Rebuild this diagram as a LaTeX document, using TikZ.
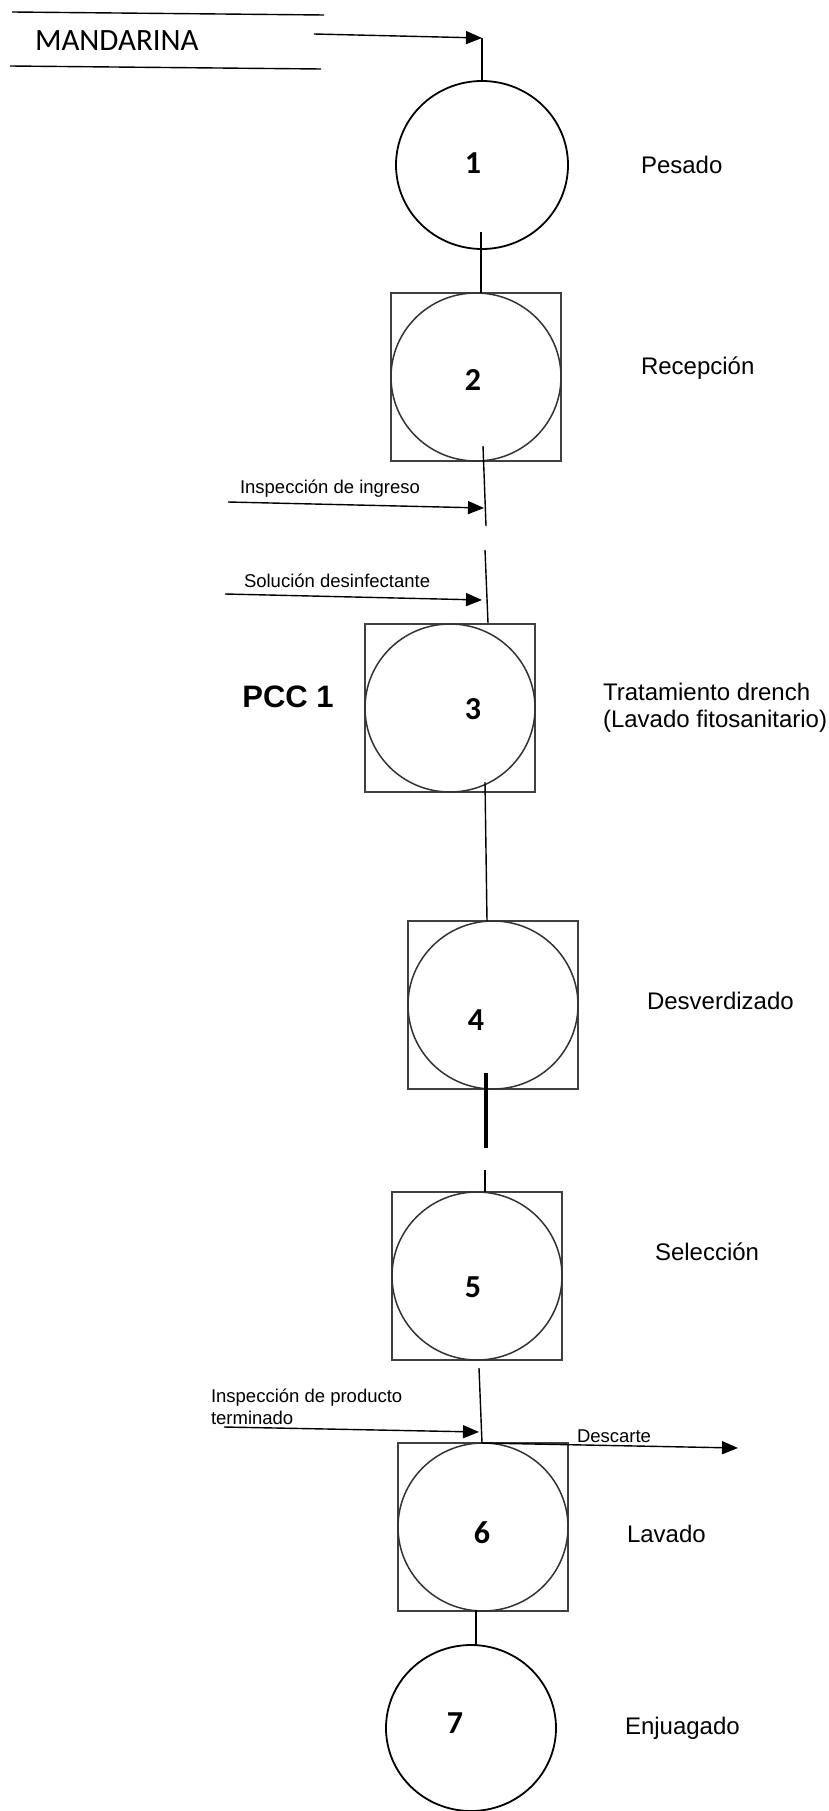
\documentclass[tikz,border=0pt]{standalone}
\usepackage{fontspec}
\setmainfont{Liberation Sans}
\newfontfamily\calibfont{Carlito}
\usetikzlibrary{arrows.meta,shapes.geometric}
\begin{document}
\begin{tikzpicture}[x=1pt,y=-1pt,
  every node/.style={inner sep=0pt,outer sep=0pt},
  conn/.style={line width=1.4pt},
  arr/.style={line width=1.4pt,-{Triangle[length=16pt,width=13pt]}},
  thickconn/.style={line width=4pt},
  opbox/.style={draw=black!75,line width=1.8pt,minimum width=170pt,minimum height=168pt},
  incirc/.style={draw=black!80,line width=1.5pt,ellipse,minimum width=170pt,minimum height=168pt},
  opcirc/.style={draw=black,line width=1.8pt,ellipse,minimum width=172pt,minimum height=168pt},
  num/.style={font=\calibfont\bfseries\fontsize{32}{38}\selectfont},
  lbl/.style={anchor=west,font=\fontsize{24}{27}\selectfont,align=left},
  small/.style={anchor=west,font=\fontsize{18.5}{22}\selectfont,align=left},
]
\useasboundingbox (0,0) rectangle (829,1811);

% store symbol
\coordinate (tl) at (12,12); \coordinate (tr) at (324,15);
\coordinate (bl) at (10,66); \coordinate (br) at (321,69);
\draw[conn] (tl) -- (tr);
\draw[conn] (bl) -- (br);
\node[anchor=west,font=\calibfont\fontsize{31}{36}\selectfont] (mand) at (35,41) {MANDARINA};

% 1
\node[opcirc] (c1) at (482,165) {};
\node[num] (n1) at (473,163) {1};
\node[lbl] (l1) at (641,165) {Pesado};
\coordinate (a0) at (314,34);
\coordinate (j1) at (482,38);
\draw[arr] (a0) -- (j1);
\draw[conn] (j1) -- (c1.north);

% 2
\node[opbox] (b2) at (476,377) {};
\node[incirc] (c2) at (b2.center) {};
\node[num] (n2) at (473,380) {2};
\node[lbl] (l2) at (641,368) {Recepción};
\coordinate (s1) at (481,232);
\draw[conn] (s1) -- (s1 |- b2.north);

% inspection + solution
\coordinate (s2) at (483,446); \coordinate (e2) at (486,526);
\draw[conn] (s2) -- (e2);
\coordinate (i1) at (228,502); \coordinate (i1e) at (484,508);
\draw[arr] (i1) -- (i1e);
\node[small] (t1) at (240,489) {Inspección de ingreso};

\coordinate (s3) at (485,550); \coordinate (e3) at (488,623);
\draw[conn] (s3) -- (e3);
\coordinate (i2) at (225,594); \coordinate (i2e) at (482,600);
\draw[arr] (i2) -- (i2e);
\node[small] (t2) at (244,581) {Solución desinfectante};

% 3
\node[opbox] (b3) at (450,708) {};
\node[incirc] (c3) at (b3.center) {};
\node[num] (n3) at (473,709) {3};
\node[font=\bfseries\fontsize{31}{36}\selectfont] (pcc) at (288,697) {PCC 1};
\node[lbl] (l3) at (603,708) {Tratamiento drench\\(Lavado fitosanitario)};

% 4
\node[opbox] (b4) at (493,1005) {};
\node[incirc] (c4) at (b4.center) {};
\node[num] (n4) at (476,1020) {4};
\node[lbl] (l4) at (647,1001) {Desverdizado};
\coordinate (s4) at (485,782);
\draw[conn] (s4) -- (487,921);

% 5
\node[opbox] (b5) at (477,1276) {};
\node[incirc] (c5) at (b5.center) {};
\node[num] (n5) at (473,1287) {5};
\node[lbl] (l5) at (655,1252) {Selección};
\coordinate (s5) at (486,1073); \coordinate (e5) at (486,1148);
\draw[thickconn] (s5) -- (e5);
\coordinate (s5b) at (485,1170);
\draw[conn] (s5b) -- (s5b |- b5.north);

% 6
\node[opbox] (b6) at (483,1527) {};
\node[incirc] (c6) at (b6.center) {};
\node[num] (n6) at (482,1533) {6};
\node[lbl] (l6) at (627,1534) {Lavado};
\coordinate (s6) at (479,1368); \coordinate (j6) at (482,1443);
\draw[conn] (s6) -- (j6);
\coordinate (i3) at (224,1427); \coordinate (i3e) at (479,1432);
\draw[arr] (i3) -- (i3e);
\node[small] (t3) at (211,1407) {Inspección de producto\\terminado};
\coordinate (d1) at (738,1448);
\draw[arr] (j6) -- (d1);
\node[small] (t4) at (577,1436) {Descarte};

% 7
\node[opcirc,minimum width=170pt,minimum height=166pt] (c7) at (471,1728) {};
\node[num] (n7) at (455,1723) {7};
\node[lbl] (l7) at (625,1728) {Enjuagado};
\coordinate (s7) at (476,1610);
\draw[conn] (s7) -- (s7 |- c7.north);
\end{tikzpicture}
\end{document}
